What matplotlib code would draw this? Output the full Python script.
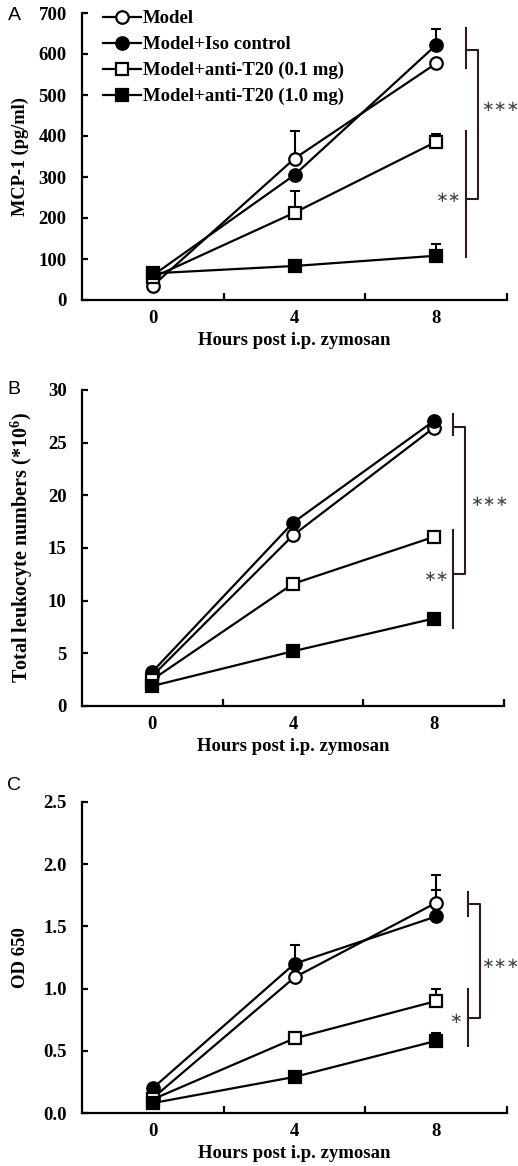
import numpy as np
import matplotlib
matplotlib.use("Agg")
import matplotlib.pyplot as plt

plt.rcParams['font.family'] = ['Liberation Serif', 'DejaVu Serif']
plt.rcParams['font.weight'] = 'bold'
plt.rcParams['axes.labelweight'] = 'bold'
plt.rcParams['mathtext.fontset'] = 'custom'
plt.rcParams['mathtext.rm'] = 'Liberation Serif:bold'
plt.rcParams['mathtext.bf'] = 'Liberation Serif:bold'

hours = [0, 4, 8]
groups = ['Model', 'Model+Iso control', 'Model+anti-T20 (0.1 mg)', 'Model+anti-T20 (1.0 mg)']

# panel A - MCP-1 (pg/ml)
mcp_model = [35, 345, 577]
mcp_iso = [60, 305, 622]
mcp_low = [55, 213, 386]
mcp_high = [65, 83, 108]
mcp_err = [[0, 67, 0], [0, 0, 40], [0, 52, 18], [0, 8, 28]]

# panel B - leukocytes (*10^6)
wbc_model = [2.85, 16.2, 26.4]
wbc_iso = [3.25, 17.4, 27.05]
wbc_low = [2.5, 11.6, 16.05]
wbc_high = [1.9, 5.2, 8.3]
wbc_err = [[0, 0, 0], [0, 0, 0], [0, 0, 0], [0, 0, 0]]

# panel C - OD 650
od_model = [0.12, 1.09, 1.69]
od_iso = [0.2, 1.2, 1.58]
od_low = [0.11, 0.6, 0.9]
od_high = [0.08, 0.29, 0.58]
od_err = [[0, 0, 0.22], [0, 0.15, 0.21], [0, 0.03, 0.1], [0, 0, 0.06]]

marks = [('o', 'white'), ('o', 'black'), ('s', 'white'), ('s', 'black')]
brk = '#2e1a1a'
star_col = '#444444'

fig = plt.figure(figsize=(5.18, 11.66), dpi=100)
W, H = 518.0, 1166.0

def make_ax(left, top, right, bottom):
    return fig.add_axes([left / W, 1 - bottom / H, (right - left) / W, (bottom - top) / H])

def style(ax, ymax, yticks, ylabels, ylabel, ylsize=13.5, lx=-0.125):
    ax.set_xlim(-2, 10)
    ax.set_ylim(0, ymax)
    ax.spines['top'].set_visible(False)
    ax.spines['right'].set_visible(False)
    for s in ['left', 'bottom']:
        ax.spines[s].set_linewidth(1.6)
    ax.set_xticks([0, 4, 8])
    ax.set_xticklabels(['0', '4', '8'])
    ax.tick_params(axis='x', length=0, pad=7, labelsize=13.5)
    ax.set_xticks([2, 6, 10], minor=True)
    ax.tick_params(axis='x', which='minor', direction='in', length=5, width=1.6)
    ax.set_yticks(yticks)
    ax.set_yticklabels(ylabels)
    ax.tick_params(axis='y', direction='in', length=4, width=1.6, labelsize=13.5, pad=11)
    ax.set_xlabel('Hours post i.p. zymosan', fontsize=13.5, labelpad=4)
    ax.set_ylabel(ylabel, fontsize=ylsize)
    ax.yaxis.set_label_coords(lx, 0.5)

def draw(ax, series, errs):
    for (m, fc), ys, e, lab in zip(marks, series, errs, groups):
        ax.errorbar(hours, ys, yerr=[[0, 0, 0], e], fmt='none', ecolor='black',
                    elinewidth=1.5, capsize=3.5, capthick=1.5, zorder=2)
        ax.plot(hours, ys, color='black', lw=1.6, marker=m, markersize=9,
                markerfacecolor=fc, markeredgecolor='black', markeredgewidth=1.6,
                label=lab, zorder=3, clip_on=False)

def bracket(ax, x1, x2, ytop, ybot, v1, v2, s1, s1pos, s2, s2pos):
    ax.plot([x1, x1], v1, color=brk, lw=1.5, clip_on=False)
    ax.plot([x1, x1], v2, color=brk, lw=1.5, clip_on=False)
    ax.plot([x1, x2, x2, x1], [ytop, ytop, ybot, ybot], color=brk, lw=1.5, clip_on=False)
    ax.text(s1pos[0], s1pos[1], s1, fontsize=11, color=star_col, family='DejaVu Sans',
            fontweight='normal', ha='center', va='center', clip_on=False)
    ax.text(s2pos[0], s2pos[1], s2, fontsize=11, color=star_col, family='DejaVu Sans',
            fontweight='normal', ha='center', va='center', clip_on=False)

# A
axA = make_ax(82, 13, 507, 300)
draw(axA, [mcp_model, mcp_iso, mcp_low, mcp_high], mcp_err)
style(axA, 700, range(0, 701, 100), [str(v) for v in range(0, 701, 100)], 'MCP-1 (pg/ml)', 13.2)
bracket(axA, 8.85, 9.19, 610, 246, [566, 663], [105, 412], '∗∗∗', (9.8, 471), '∗∗', (8.34, 251))
axA.legend(loc='upper left', bbox_to_anchor=(0.05, 1.01), frameon=False, fontsize=13.5,
           handlelength=2.0, handletextpad=0.1, labelspacing=0.47, borderpad=0, borderaxespad=0)

# B
axB = make_ax(82, 390, 504, 706)
draw(axB, [wbc_model, wbc_iso, wbc_low, wbc_high], wbc_err)
style(axB, 30, range(0, 31, 5), [str(v) for v in range(0, 31, 5)],
      r'Total leukocyte numbers (*10$^{6}$)', 14.5, -0.112)
bracket(axB, 8.54, 8.89, 26.5, 12.5, [25.7, 27.75], [7.4, 16.7], '∗∗∗', (9.57, 19.4), '∗∗', (8.05, 12.25))

# C
axC = make_ax(82, 802, 507, 1113)
draw(axC, [od_model, od_iso, od_low, od_high], od_err)
style(axC, 2.5, np.arange(0, 2.51, 0.5), ['%.1f' % v for v in np.arange(0, 2.51, 0.5)], 'OD 650')
bracket(axC, 8.89, 9.23, 1.68, 0.76, [1.58, 1.78], [0.535, 1.0], '∗∗∗', (9.8, 1.20), '∗', (8.54, 0.76))

for lab, y in [('A', 15), ('B', 390), ('C', 785)]:
    fig.text(14 / W, 1 - y / H, lab, family='Liberation Sans', fontweight='normal',
             fontsize=14, ha='center', va='center')

fig.savefig('out.png', dpi=100)
